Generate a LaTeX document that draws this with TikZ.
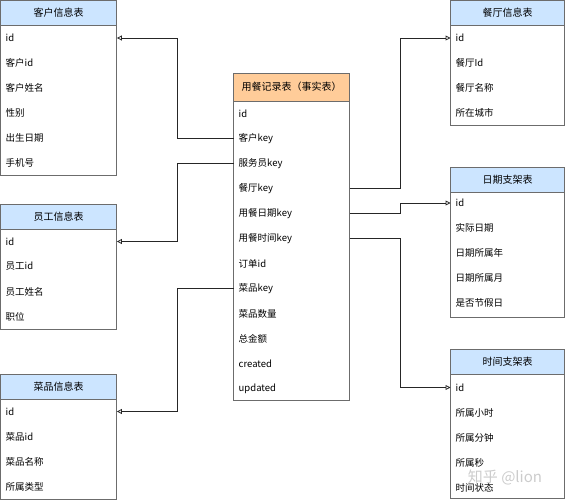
\documentclass[tikz,border=0pt]{standalone}
\usepackage{fontspec}
\newfontfamily\cjk{Noto Sans CJK SC}
\usetikzlibrary{arrows.meta}
\definecolor{dimblue}{HTML}{CCE5FF}
\definecolor{factorange}{HTML}{FFCC99}
\definecolor{tblline}{HTML}{6C6C6C}
\tikzset{
	tblframe/.style={draw=tblline, line width=0.9pt},
	tblrow/.style={anchor=west, inner xsep=5pt, inner ysep=0pt, minimum height=25pt, text width=#1, align=left},
	fk/.style={draw=black!85, line width=0.8pt, -{Triangle[open, length=5pt, width=5pt]}}
}
\begin{document}
\begin{tikzpicture}[x=1pt, y=-1pt, font=\cjk\fontsize{9.5}{11}\selectfont]
	\useasboundingbox (0,0) rectangle (567,500);
	
	\begin{scope}[shift={(0.5,0.5)}]
		\draw[tblframe, fill=dimblue] (0,0) rectangle (116,25);
		\node[font=\cjk\fontsize{10}{12}\selectfont] (cust-h) at (58,12.5) {客户信息表};
		\draw[tblframe] (0,25) rectangle (116,175);
		\foreach \i/\t in {1/id, 2/客户id, 3/客户姓名, 4/性别, 5/出生日期, 6/手机号}
		{
			\node[tblrow=106pt] (cust-\i) at (0,12.5+25*\i) {\t};
		}
	\end{scope}
	\begin{scope}[shift={(0.5,204)}]
		\draw[tblframe, fill=dimblue] (0,0) rectangle (116,25);
		\node[font=\cjk\fontsize{10}{12}\selectfont] (emp-h) at (58,12.5) {员工信息表};
		\draw[tblframe] (0,25) rectangle (116,125);
		\foreach \i/\t in {1/id, 2/员工id, 3/员工姓名, 4/职位}
		{
			\node[tblrow=106pt] (emp-\i) at (0,12.5+25*\i) {\t};
		}
	\end{scope}
	\begin{scope}[shift={(0.5,374)}]
		\draw[tblframe, fill=dimblue] (0,0) rectangle (116,25);
		\node[font=\cjk\fontsize{10}{12}\selectfont] (dish-h) at (58,12.5) {菜品信息表};
		\draw[tblframe] (0,25) rectangle (116,125);
		\foreach \i/\t in {1/id, 2/菜品id, 3/菜品名称, 4/所属类型}
		{
			\node[tblrow=106pt] (dish-\i) at (0,12.5+25*\i) {\t};
		}
	\end{scope}
	
	\begin{scope}[shift={(233.5,73)}]
		\draw[tblframe, fill=factorange] (0,0) rectangle (116,28);
		\node[font=\cjk\fontsize{10}{12}\selectfont] (fact-h) at (58,14) {用餐记录表（事实表）};
		\draw[tblframe] (0,28) rectangle (116,327);
		\foreach \i/\t in {1/id, 2/客户key, 3/服务员key, 4/餐厅key, 5/用餐日期key, 6/用餐时间key,
			7/订单id, 8/菜品key, 9/菜品数量, 10/总金额, 11/created, 12/updated}
		{
			\node[tblrow=106pt] (fact-\i) at (0,15.5+25*\i) {\t};
		}
	\end{scope}
	
	\begin{scope}[shift={(450.5,0.5)}]
		\draw[tblframe, fill=dimblue] (0,0) rectangle (114,25);
		\node[font=\cjk\fontsize{10}{12}\selectfont] (rest-h) at (57,12.5) {餐厅信息表};
		\draw[tblframe] (0,25) rectangle (114,125);
		\foreach \i/\t in {1/id, 2/餐厅Id, 3/餐厅名称, 4/所在城市}
		{
			\node[tblrow=104pt] (rest-\i) at (0,12.5+25*\i) {\t};
		}
	\end{scope}
	\begin{scope}[shift={(450.5,167)}]
		\draw[tblframe, fill=dimblue] (0,0) rectangle (114,25);
		\node[font=\cjk\fontsize{10}{12}\selectfont] (date-h) at (57,12.5) {日期支架表};
		\draw[tblframe] (0,25) rectangle (114,150);
		\foreach \i/\t in {1/id, 2/实际日期, 3/日期所属年, 4/日期所属月, 5/是否节假日}
		{
			\node[tblrow=104pt] (date-\i) at (0,11+25*\i) {\t};
		}
	\end{scope}
	\begin{scope}[shift={(450.5,349)}]
		\draw[tblframe, fill=dimblue] (0,0) rectangle (114,25);
		\node[font=\cjk\fontsize{10}{12}\selectfont] (time-h) at (57,12.5) {时间支架表};
		\draw[tblframe] (0,25) rectangle (114,149);
		\foreach \i/\t in {1/id, 2/所属小时, 3/所属分钟, 4/所属秒, 5/时间状态}
		{
			\node[tblrow=104pt] (time-\i) at (0,13.5+25*\i) {\t};
		}
	\end{scope}
	
	% foreign keys
	\coordinate (lbus) at (177,0);
	\coordinate (rbus) at (400,0);
	\draw[fk] (fact-2.west) -- (fact-2.west -| lbus) |- (cust-1.east);
	\draw[fk] (fact-3.west) -- (fact-3.west -| lbus) |- (emp-1.east);
	\draw[fk] (fact-8.west) -- (fact-8.west -| lbus) |- (dish-1.east);
	\draw[fk] (fact-4.east) -- (fact-4.east -| rbus) |- (rest-1.west);
	\draw[fk] (fact-5.east) -- (fact-5.east -| rbus) |- (date-1.west);
	\draw[fk] (fact-6.east) -- (fact-6.east -| rbus) |- (time-1.west);
	
	\node[text=gray!40, font=\cjk\fontsize{15}{17}\selectfont] (mark) at (505,477) {知乎 @lion};
\end{tikzpicture}
\end{document}
